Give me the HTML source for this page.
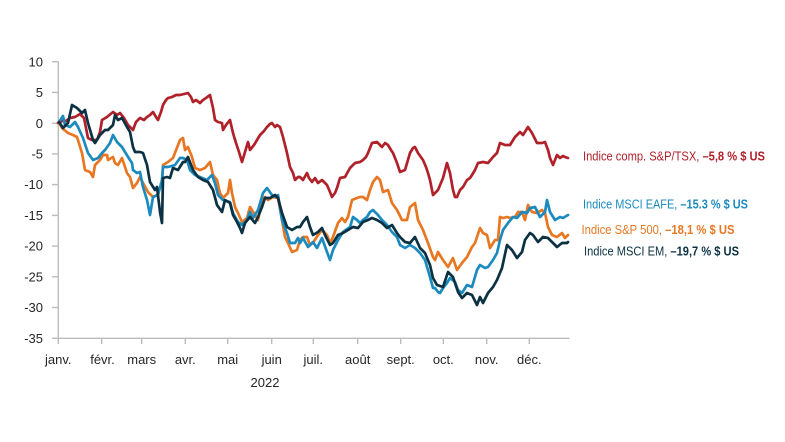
<!DOCTYPE html>
<html><head><meta charset="utf-8"><style>
html,body{margin:0;padding:0;background:#fff;}
svg{display:block;font-family:"Liberation Sans",Arial,sans-serif;}
</style></head><body>
<svg width="785" height="442" viewBox="0 0 785 442" xmlns="http://www.w3.org/2000/svg">
<rect width="785" height="442" fill="#fff"/>
<g stroke="#bcbcbc" stroke-width="1.4" fill="none">
<line x1="58.3" y1="61.7" x2="58.3" y2="338.3"/>
<line x1="58.3" y1="338.3" x2="569.5" y2="338.3"/>
<line x1="52" y1="61.7" x2="58.3" y2="61.7"/>
<line x1="52" y1="92.4" x2="58.3" y2="92.4"/>
<line x1="52" y1="123.2" x2="58.3" y2="123.2"/>
<line x1="52" y1="153.9" x2="58.3" y2="153.9"/>
<line x1="52" y1="184.6" x2="58.3" y2="184.6"/>
<line x1="52" y1="215.4" x2="58.3" y2="215.4"/>
<line x1="52" y1="246.1" x2="58.3" y2="246.1"/>
<line x1="52" y1="276.8" x2="58.3" y2="276.8"/>
<line x1="52" y1="307.5" x2="58.3" y2="307.5"/>
<line x1="52" y1="338.3" x2="58.3" y2="338.3"/>
<line x1="58.3" y1="338.3" x2="58.3" y2="344"/>
<line x1="101.7" y1="338.3" x2="101.7" y2="344"/>
<line x1="141.7" y1="338.3" x2="141.7" y2="344"/>
<line x1="185.3" y1="338.3" x2="185.3" y2="344"/>
<line x1="227.7" y1="338.3" x2="227.7" y2="344"/>
<line x1="271.7" y1="338.3" x2="271.7" y2="344"/>
<line x1="313.3" y1="338.3" x2="313.3" y2="344"/>
<line x1="357.7" y1="338.3" x2="357.7" y2="344"/>
<line x1="400.7" y1="338.3" x2="400.7" y2="344"/>
<line x1="443.3" y1="338.3" x2="443.3" y2="344"/>
<line x1="486.7" y1="338.3" x2="486.7" y2="344"/>
<line x1="529.3" y1="338.3" x2="529.3" y2="344"/>
</g>
<g font-size="13" fill="#262626" text-anchor="end">
<text x="43" y="66.3">10</text>
<text x="43" y="97">5</text>
<text x="43" y="127.8">0</text>
<text x="43" y="158.5">-5</text>
<text x="43" y="189.2">-10</text>
<text x="43" y="220">-15</text>
<text x="43" y="250.7">-20</text>
<text x="43" y="281.4">-25</text>
<text x="43" y="312.1">-30</text>
<text x="43" y="342.9">-35</text>
</g>
<g font-size="13" fill="#262626" text-anchor="middle">
<text x="58.3" y="364">janv.</text>
<text x="102.5" y="364">févr.</text>
<text x="141.7" y="364">mars</text>
<text x="185.3" y="364">avr.</text>
<text x="227.7" y="364">mai</text>
<text x="271.7" y="364">juin</text>
<text x="313.3" y="364">juil.</text>
<text x="357.7" y="364">août</text>
<text x="400.7" y="364">sept.</text>
<text x="443.3" y="364">oct.</text>
<text x="486.7" y="364">nov.</text>
<text x="529.3" y="364">déc.</text>
<text x="265" y="387">2022</text>
</g>
<g fill="none" stroke-width="2.7" stroke-linejoin="round" stroke-linecap="round">
<polyline stroke="#b0212a" points="58,123 62,121 66,121 70,118 75,117 80,114 84,118 88,138 92,140 97,140 100,132 102,120 107,117 113,112 117,115 120,113 124,118 128,125 133,130 136,122 140,118 144,120 147,117 150,115 153,112 156,117 158,120 161,112 163,105 166,100 168,98 172,97 176,95 180,95 184,94 188,93 191,97 193,102 196,100 200,103 203,100 206,98 210,95 213,108 215,120 218,122 222,123 223,130 226,125 230,120 233,133 236,143 239,152 242,162 245,152 248,142 250,150 254,145 257,140 260,135 264,131 267,127 270,124 272,123 275,127 277,125 280,127 283,137 287,153 290,167 293,173 295,180 298,177 300,177 303,180 307,173 309,178 312,182 315,178 318,183 322,180 325,183 327,185 330,192 332,197 335,193 337,188 340,178 345,177 350,168 355,163 360,162 363,160 366,157 368,153 372,143 377,142 380,145 382,147 385,143 388,145 391,150 393,153 397,163 400,172 405,170 410,153 413,148 415,147 418,153 423,160 426,167 428,173 430,180 432,190 433,195 435,193 438,190 443,178 447,163 450,173 453,190 455,197 457,197 460,190 463,187 467,180 470,178 472,175 475,170 478,163 483,162 488,163 493,157 497,153 500,143 505,145 510,145 515,137 520,132 523,135 528,127 532,133 537,143 542,143 545,142 548,150 550,158 553,165 557,155 560,158 563,156 565,157 568,158"/>
<polyline stroke="#e87722" points="59,122 62,128 68,133 73,135 77,137 82,153 85,170 90,172 93,177 95,165 100,160 103,155 107,155 108,160 113,157 115,163 118,165 122,158 127,173 130,177 133,188 137,183 140,177 143,183 148,192 153,197 157,195 162,183 163,165 168,162 173,158 180,140 183,138 185,150 188,147 192,157 195,168 200,170 205,168 210,162 213,175 217,180 220,193 223,198 228,193 230,180 232,193 235,207 238,213 242,222 247,218 250,207 255,215 258,220 262,200 265,197 268,200 273,197 278,198 282,220 285,237 288,243 292,252 297,250 300,240 303,237 307,237 310,245 313,243 318,235 322,230 327,235 330,243 333,237 338,223 342,218 345,222 348,217 352,200 357,198 360,197 363,197 367,200 370,190 373,182 377,177 380,180 383,192 388,190 392,203 397,210 402,220 407,220 410,207 415,203 418,220 423,230 428,243 433,257 435,260 438,252 443,260 448,267 453,258 457,270 462,263 467,257 472,247 475,243 480,228 483,233 487,235 490,248 495,240 498,240 500,217 503,218 507,217 510,218 515,217 518,212 522,212 525,220 528,205 532,212 537,213 542,210 545,213 548,227 552,235 557,237 562,233 565,238 568,235"/>
<polyline stroke="#1b8bbf" points="59,122 63,116 65,125 70,127 75,122 78,127 83,138 88,153 93,160 98,158 102,153 105,150 110,143 113,135 117,142 122,147 125,152 130,160 132,163 133,170 137,173 140,172 143,187 147,200 150,215 153,197 158,195 162,180 163,167 168,167 175,165 180,158 183,158 187,160 190,170 195,175 200,177 207,180 212,175 215,183 218,195 223,200 230,202 233,213 238,222 242,225 247,220 250,212 253,218 258,210 263,193 267,188 272,195 275,197 278,195 282,220 287,233 290,243 295,243 298,238 300,243 303,238 308,247 313,242 317,248 322,238 327,252 330,260 333,250 338,240 343,232 350,227 353,217 357,220 360,223 363,220 367,217 370,212 373,210 378,215 382,220 387,225 392,232 397,237 400,245 405,248 410,245 415,248 420,253 425,260 430,277 433,288 435,288 438,292 440,293 443,288 447,283 450,278 455,282 458,290 462,293 467,285 472,287 477,270 480,265 485,268 488,267 493,260 497,253 500,240 503,230 508,223 513,217 517,218 522,212 527,213 530,208 535,207 540,217 545,212 547,200 550,212 555,220 560,217 563,218 568,215"/>
<polyline stroke="#0b3142" points="59,122 63,128 68,123 72,105 77,108 82,113 85,110 88,123 93,140 95,143 100,135 105,130 108,130 113,125 115,115 118,120 122,118 127,127 130,132 133,147 135,152 140,152 143,153 147,165 150,182 155,190 157,187 160,212 162,223 163,178 167,177 170,178 173,168 178,170 183,162 185,162 188,157 193,170 198,177 203,180 208,182 213,190 217,205 222,212 225,200 230,203 233,215 237,222 240,228 242,233 245,223 250,217 255,223 258,217 262,207 265,198 270,198 275,195 278,198 282,213 287,227 292,230 297,227 300,227 303,222 307,217 310,227 313,235 318,232 322,228 325,235 330,245 333,243 338,235 343,233 348,230 353,227 358,228 363,222 368,220 372,218 377,220 382,223 387,228 392,225 397,233 400,237 405,242 410,243 415,237 420,248 425,253 430,265 433,278 437,285 443,287 448,272 453,277 458,292 462,298 467,293 472,295 477,305 480,297 483,303 488,293 493,287 497,280 502,268 507,245 512,250 517,258 522,252 525,240 530,233 533,235 538,242 543,237 548,238 553,243 557,247 562,243 567,243 568,242"/>
</g>
<g font-size="12.5">
<text x="583" y="160.5" fill="#b0212a" textLength="182" lengthAdjust="spacingAndGlyphs">Indice comp. S&amp;P/TSX, <tspan font-weight="bold">–5,8 % $ US</tspan></text>
<text x="583" y="208.7" fill="#1b8bbf" textLength="165" lengthAdjust="spacingAndGlyphs">Indice MSCI EAFE, <tspan font-weight="bold">–15.3 % $ US</tspan></text>
<text x="581.5" y="234" fill="#e87722" textLength="153" lengthAdjust="spacingAndGlyphs">Indice S&amp;P 500, <tspan font-weight="bold">–18,1 % $ US</tspan></text>
<text x="584" y="255.5" fill="#0b3142" textLength="155" lengthAdjust="spacingAndGlyphs">Indice MSCI EM, <tspan font-weight="bold">–19,7 % $ US</tspan></text>
</g>
</svg>
</body></html>
